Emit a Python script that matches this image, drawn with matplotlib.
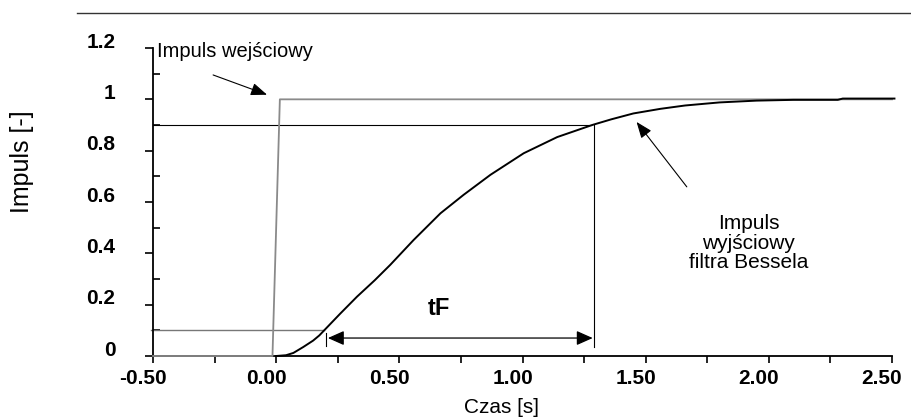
import numpy as np
import matplotlib
matplotlib.use('Agg')
from matplotlib import pyplot as plt
from matplotlib.lines import Line2D
from matplotlib.patches import FancyArrowPatch
from matplotlib.transforms import ScaledTranslation

plt.rcParams['font.family'] = ['Liberation Sans', 'DejaVu Sans']

# odpowiedz skokowa filtra Bessela - wartosci
t_in = [-0.50, -0.015, 0.015, 2.50]
y_in = [0.0, 0.0, 1.0, 1.0]

t_out = [0.00, 0.04, 0.07, 0.11, 0.15, 0.175, 0.199, 0.26, 0.328, 0.40,
         0.463, 0.558, 0.667, 0.761, 0.870, 1.005, 1.141, 1.283, 1.36,
         1.45, 1.56, 1.66, 1.80, 1.95, 2.10, 2.28, 2.30, 2.51]
y_out = [0.00, 0.003, 0.012, 0.035, 0.06, 0.08, 0.104, 0.165, 0.231, 0.295,
         0.355, 0.452, 0.556, 0.628, 0.706, 0.790, 0.853, 0.900, 0.922,
         0.945, 0.963, 0.976, 0.988, 0.995, 0.998, 0.998, 1.003, 1.003]

x_ticks = [-0.50, 0.00, 0.50, 1.00, 1.50, 2.00, 2.50]
x_labels = ['-0.50', '0.00', '0.50', '1.00', '1.50', '2.00', '2.50']
y_ticks = [0, 0.2, 0.4, 0.6, 0.8, 1.0, 1.2]
y_labels = ['0', '0.2', '0.4', '0.6', '0.8', '1', '1.2']

lvl_lo, lvl_hi = 0.1, 0.9
t_lo, t_hi = 0.20, 1.29

W, H = 911, 419
fig = plt.figure(figsize=(W / 100, H / 100), dpi=100)
ax = fig.add_axes([153 / W, (H - 356) / H, (892 - 153) / W, (356 - 48) / H])

ax.plot(t_in, y_in, color='#8a8a8a', lw=1.3, clip_on=False, zorder=3)
ax.plot(t_out, y_out, color='black', lw=1.4, clip_on=False, zorder=4)

# poziomy 10% i 90%
ax.plot([-0.51, t_lo - 0.005], [lvl_lo, lvl_lo], color='#777777', lw=1.0, clip_on=False)
ax.plot([-0.50, t_hi - 0.01], [lvl_hi, lvl_hi], color='black', lw=0.8)
ax.plot([t_hi, t_hi], [lvl_hi, 0.035], color='black', lw=0.8)
ax.plot([t_lo + 0.003, t_lo + 0.003], [0.04, 0.09], color='black', lw=0.8)

arr = FancyArrowPatch((t_lo + 0.01, 0.07), (t_hi - 0.005, 0.07),
                      arrowstyle='<|-|>,head_length=0.9,head_width=0.4',
                      mutation_scale=11, color='black', lw=0.9, shrinkA=0, shrinkB=0)
ax.add_patch(arr)
ax.text(0.659, 0.187, 'tF', fontsize=17, fontweight='bold', ha='center', va='center')

ax.annotate('', xy=(-0.037, 1.018), xytext=(-0.256, 1.095),
            arrowprops=dict(arrowstyle='-|>,head_length=0.9,head_width=0.35',
                            mutation_scale=11, color='black', lw=0.8,
                            shrinkA=0, shrinkB=0), annotation_clip=False)
ax.annotate('', xy=(1.463, 0.912), xytext=(1.667, 0.659),
            arrowprops=dict(arrowstyle='-|>,head_length=0.9,head_width=0.35',
                            mutation_scale=11, color='black', lw=0.8,
                            shrinkA=0, shrinkB=0), annotation_clip=False)

ax.text(-0.484, 1.166, 'Impuls wejściowy', fontsize=14.5, ha='left', va='baseline', clip_on=False)
ax.text(1.919, 0.44, 'Impuls\nwyjściowy\nfiltra Bessela', fontsize=15,
        ha='center', va='center', multialignment='center', linespacing=1.05)

ax.set_xlim(-0.5, 2.5)
ax.set_ylim(0, 1.2)
for s in ['top', 'right']:
    ax.spines[s].set_visible(False)
for s in ['left', 'bottom']:
    ax.spines[s].set_linewidth(1.3)

ax.set_xticks(x_ticks)
ax.set_xticklabels(x_labels, fontsize=15, fontweight='bold')
ax.set_xticks(np.arange(-0.25, 2.5, 0.5), minor=True)
ax.set_yticks(y_ticks)
ax.set_yticklabels(y_labels, fontsize=15, fontweight='bold')
ax.set_yticks(np.arange(0.1, 1.2, 0.2), minor=True)

ax.tick_params(axis='x', which='both', direction='out', length=5, width=1.2, pad=4)
ax.tick_params(axis='y', which='major', direction='out', length=6, width=1.2, pad=21)
ax.tick_params(axis='y', which='minor', direction='in', length=5, width=1.2)

for lab in ax.get_xticklabels():
    lab.set_transform(lab.get_transform() + ScaledTranslation(-0.10, 0, fig.dpi_scale_trans))
for lab in ax.get_yticklabels():
    lab.set_transform(lab.get_transform() + ScaledTranslation(0, 0.08, fig.dpi_scale_trans))

fig.text(502 / W, 1 - 407 / H, 'Czas [s]', fontsize=15, ha='center', va='center')
fig.text(22 / W, 1 - 162 / H, 'Impuls [-]', fontsize=18, rotation=90, ha='center', va='center')

fig.add_artist(Line2D([77 / W, 1.0], [1 - 13 / H, 1 - 13 / H], color='#333333', lw=1.0))

fig.savefig('out.png', dpi=100)
